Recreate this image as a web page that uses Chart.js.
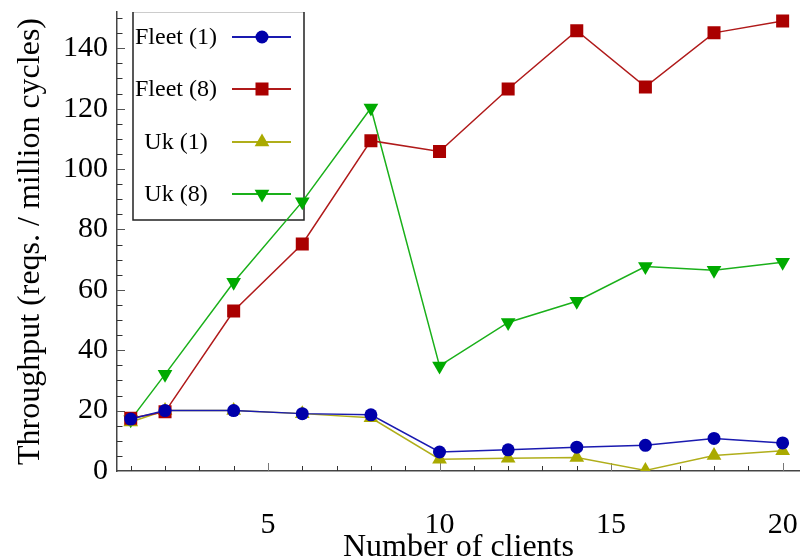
<!DOCTYPE html>
<html>
<head>
<meta charset="utf-8">
<script src="https://cdn.jsdelivr.net/npm/chart.js@4/dist/chart.umd.min.js"></script>
<style>
  html, body { margin: 0; padding: 0; background: #fff; }
  #wrap { width: 809px; height: 559px; }
</style>
</head>
<body>
<div id="wrap"><canvas id="c" width="809" height="559"></canvas></div>
<script>
// Number of clients on the x axis
const clients = [1, 2, 4, 6, 8, 10, 12, 14, 16, 18, 20];

// Throughput per configuration (requests per million cycles)
const fleet1 = [17.2, 20.0, 20.0, 19.0, 18.6, 6.3, 7.0, 7.9, 8.5, 10.8, 9.3];
const fleet8 = [17.5, 19.6, 53.0, 75.2, 109.4, 105.8, 126.5, 145.8, 127.2, 145.1, 149.0];
const uk1    = [16.2, 20.0, 20.0, 19.0, 17.6, 3.9, 4.2, 4.5, 0.2, 5.1, 6.7];
const uk8    = [17.0, 32.0, 62.5, 89.2, 120.2, 34.8, 49.2, 56.2, 67.7, 66.5, 69.1];

const seriesNames = ['Fleet (1)', 'Fleet (8)', 'Uk (1)', 'Uk (8)'];

// Tick labels
const xTicks = [5, 10, 15, 20];
const yTicks = [0, 20, 40, 60, 80, 100, 120, 140];

const serif = '"Liberation Serif", "DejaVu Serif", serif';

function pts(vals) {
  return clients.map((c, i) => ({ x: c, y: vals[i] }));
}

const datasets = [
  { label: seriesNames[0], data: pts(fleet1), borderColor: '#1a1ab0', backgroundColor: '#0000aa',
    pointStyle: 'circle', pointRadius: 6.5, rotation: 0 },
  { label: seriesNames[1], data: pts(fleet8), borderColor: '#b01a1a', backgroundColor: '#aa0000',
    pointStyle: 'rect', pointRadius: 9.2, rotation: 0 },
  { label: seriesNames[2], data: pts(uk1), borderColor: '#b0ae1a', backgroundColor: '#aaaa00',
    pointStyle: 'triangle', pointRadius: 8.5, rotation: 0 },
  { label: seriesNames[3], data: pts(uk8), borderColor: '#1ab01a', backgroundColor: '#00aa00',
    pointStyle: 'triangle', pointRadius: 8.5, rotation: 180 }
].map(d => Object.assign(d, {
  borderWidth: 1.5,
  pointBorderWidth: 0,
  pointBackgroundColor: d.backgroundColor,
  pointBorderColor: d.backgroundColor,
  pointRotation: d.rotation,
  tension: 0,
  fill: false
}));

// Inward tick marks on both axes (minor and major)
const tickMarks = {
  id: 'tickMarks',
  beforeDatasetsDraw(chart) {
    const { ctx, chartArea: a, scales: { x, y } } = chart;
    ctx.save();
    ctx.lineWidth = 1;
    for (let v = 1; v <= 20; v++) {
      const px = Math.round(x.getPixelForValue(v)) + 0.5;
      const major = v % 5 === 0;
      ctx.strokeStyle = major ? '#777' : '#333';
      ctx.beginPath();
      ctx.moveTo(px, a.bottom);
      ctx.lineTo(px, a.bottom - (major ? 8 : 5));
      ctx.stroke();
    }
    for (let v = 5; v <= 150; v += 5) {
      const py = Math.round(y.getPixelForValue(v)) + 0.5;
      const major = v % 20 === 0;
      ctx.strokeStyle = major ? '#555' : '#333';
      ctx.beginPath();
      ctx.moveTo(a.left, py);
      ctx.lineTo(a.left + (major ? 8 : 5.5), py);
      ctx.stroke();
    }
    ctx.restore();
  }
};

// Boxed legend in the upper-left corner of the plot
const boxLegend = {
  id: 'boxLegend',
  beforeDatasetsDraw(chart) {
    const { ctx } = chart;
    const left = 133, top = 12, right = 304, bottom = 220;
    ctx.save();
    ctx.fillStyle = '#fff';
    ctx.fillRect(left, top, right - left, bottom - top);
    ctx.strokeStyle = '#ccc';
    ctx.lineWidth = 1;
    ctx.beginPath();
    ctx.moveTo(left, top + 0.5);
    ctx.lineTo(right, top + 0.5);
    ctx.stroke();
    ctx.strokeStyle = '#222';
    ctx.lineWidth = 1.5;
    ctx.beginPath();
    ctx.moveTo(left, top);
    ctx.lineTo(left, bottom);
    ctx.lineTo(right, bottom);
    ctx.lineTo(right, top);
    ctx.stroke();

    const rowY = [37, 89, 142, 194];
    ctx.font = '24px ' + serif;
    ctx.textAlign = 'center';
    ctx.textBaseline = 'middle';
    chart.data.datasets.forEach((ds, i) => {
      const yy = rowY[i];
      ctx.fillStyle = '#000';
      ctx.fillText(ds.label, 176, yy + 1);
      ctx.strokeStyle = ds.borderColor;
      ctx.lineWidth = 2;
      ctx.beginPath();
      ctx.moveTo(232, yy);
      ctx.lineTo(291, yy);
      ctx.stroke();
      ctx.fillStyle = ds.backgroundColor;
      ctx.strokeStyle = ds.backgroundColor;
      ctx.lineWidth = 0;
      Chart.helpers.drawPoint(ctx, {
        pointStyle: ds.pointStyle,
        radius: ds.pointRadius,
        rotation: ds.rotation,
        borderWidth: 0
      }, 262, yy);
    });
    ctx.restore();
  }
};

new Chart(document.getElementById('c'), {
  type: 'line',
  data: { datasets },
  options: {
    responsive: false,
    animation: false,
    devicePixelRatio: 1,
    layout: { padding: { left: 0, right: 0, top: 12, bottom: 0 } },
    plugins: { legend: { display: false }, tooltip: { enabled: false } },
    scales: {
      x: {
        type: 'linear',
        min: 0.6,
        max: 20.5,
        afterFit(s) { s.height = 88; s.paddingLeft = 0; s.paddingRight = 0; },
        afterBuildTicks(s) { s.ticks = xTicks.map(v => ({ value: v })); },
        grid: { display: false, drawTicks: false },
        border: { display: true, color: '#444', width: 1.5 },
        ticks: { color: '#000', padding: 36, font: { family: serif, size: 30 }, maxRotation: 0 },
        title: { display: true, text: 'Number of clients', color: '#000',
                 font: { family: serif, size: 32 }, padding: { top: 0, bottom: -8 } }
      },
      y: {
        type: 'linear',
        min: 0,
        max: 152,
        afterFit(s) { s.width = 117; s.paddingTop = 0; s.paddingBottom = 0; },
        afterBuildTicks(s) { s.ticks = yTicks.map(v => ({ value: v })); },
        grid: { display: false, drawTicks: false },
        border: { display: true, color: '#444', width: 1.5 },
        ticks: { color: '#000', padding: 9, font: { family: serif, size: 30 } },
        title: { display: true, text: 'Throughput (reqs. / million cycles)', color: '#000',
                 font: { family: serif, size: 32 }, padding: { top: 11, bottom: 0 } }
      }
    }
  },
  plugins: [tickMarks, boxLegend]
});
</script>
</body>
</html>
